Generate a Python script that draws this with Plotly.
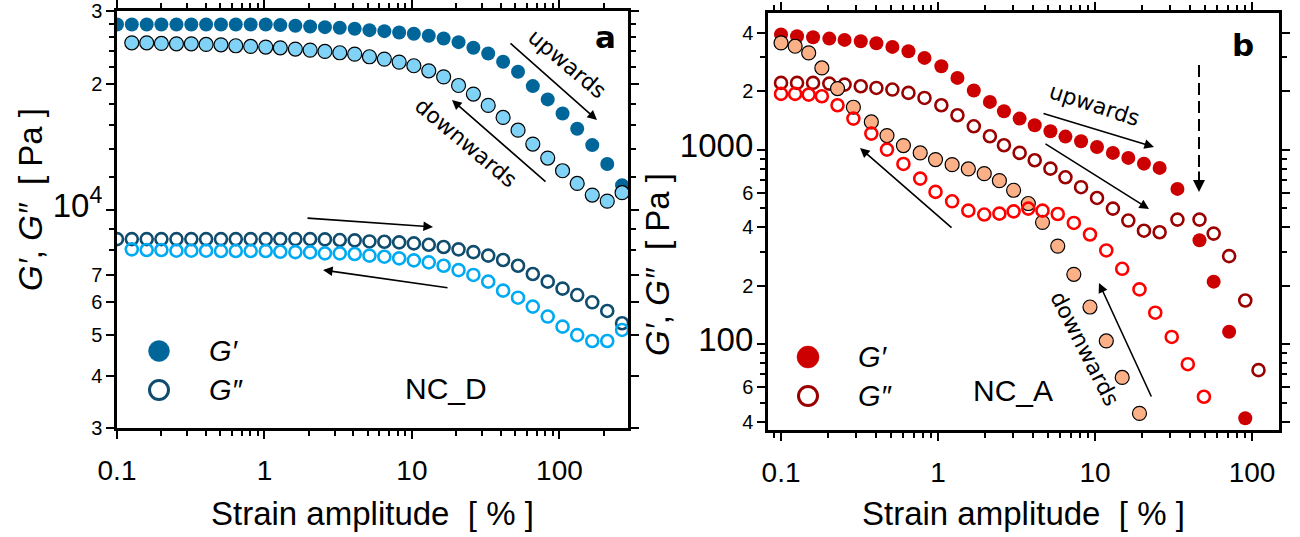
import plotly.graph_objects as go

# ---------------- data: panel a (NC_D) ----------------
STRAIN_A = [0.1, 0.126, 0.159, 0.2, 0.253, 0.319, 0.402, 0.507, 0.639, 0.806,
            1.02, 1.28, 1.62, 2.04, 2.57, 3.24, 4.09, 5.15, 6.5, 8.19,
            10.3, 13.0, 16.4, 20.7, 26.1, 32.9, 41.5, 52.4, 66.0, 83.3,
            105, 132, 167, 211, 266]
A_GP_UP = [27860, 27860, 27860, 27860, 27860, 27860, 27860, 27860, 27860, 27860,
           27860, 27760, 27660, 27550, 27450, 27350, 27200, 27000, 26850, 26650,
           26460, 26170, 25790, 25270, 24490, 23740, 22670, 21460, 19820, 18420,
           17040, 15660, 14310, 12890, 11470]
A_GPP_UP = [8515, 8515, 8515, 8515, 8515, 8515, 8515, 8515, 8515, 8515,
            8515, 8515, 8515, 8515, 8500, 8470, 8455, 8405, 8390, 8360,
            8315, 8250, 8150, 8045, 7925, 7770, 7585, 7350, 7020, 6730,
            6475, 6250, 6005, 5725, 5350]
STRAIN_A_DOWN = [0.126, 0.159, 0.2, 0.253, 0.319, 0.402, 0.507, 0.639, 0.806,
                 1.02, 1.28, 1.62, 2.04, 2.57, 3.24, 4.09, 5.15, 6.5, 8.19,
                 10.3, 13.0, 16.4, 20.7, 26.1, 32.9, 41.5, 52.4, 66.0, 83.3,
                 105, 132, 167, 211, 266]
A_GP_DOWN = [25180, 25180, 25090, 25040, 25040, 24950, 24900, 24770, 24680,
             24590, 24490, 24320, 24180, 24000, 23830, 23650, 23310, 23010, 22630,
             22180, 21570, 20860, 19890, 18970, 17820, 16670, 15540, 14390, 13320,
             12420, 11580, 10860, 10500, 11000]
A_GPP_DOWN = [8045, 8015, 8015, 7985, 7985, 7985, 7970, 7970, 7970,
              7970, 7940, 7925, 7910, 7870, 7870, 7840, 7770, 7725, 7655,
              7570, 7485, 7350, 7175, 6985, 6730, 6405, 6160, 5865, 5550,
              5250, 5010, 4850, 4850, 5155]

# ---------------- data: panel b (NC_A) ----------------
STRAIN_B_UP = [0.1, 0.1265, 0.160, 0.203, 0.254, 0.322, 0.405, 0.512, 0.648, 0.820,
               1.05, 1.33, 1.69, 2.14, 2.63, 3.31, 4.13, 5.20, 6.48, 8.15,
               10.3, 13.0, 16.3, 20.5, 25.8, 33.5, 46.3, 57.0, 71.5, 90.6]
B_GP_UP = [3922, 3845, 3800, 3739, 3681, 3623, 3538, 3388, 3218, 2975,
           2695, 2347, 2020, 1766, 1581, 1449, 1339, 1248, 1171, 1108,
           1036, 965, 910, 850, 808, 630, 343, 210, 116, 41.6]
STRAIN_B_UP2 = [0.1, 0.1265, 0.160, 0.203, 0.254, 0.322, 0.405, 0.512, 0.648, 0.820,
                1.05, 1.33, 1.69, 2.14, 2.63, 3.31, 4.13, 5.20, 6.48, 8.15,
                10.3, 13.0, 16.3, 20.5, 25.8, 33.5, 46.3, 57.0, 71.5, 90.6, 110]
B_GPP_UP = [2212, 2212, 2212, 2194, 2168, 2126, 2084, 2044, 1965, 1851,
            1697, 1508, 1323, 1176, 1057, 965, 885, 801, 723, 643,
            566, 499, 433, 384, 377, 438, 438, 371, 284, 168, 73.6]
STRAIN_B_DOWN = [0.1, 0.123, 0.150, 0.182, 0.229, 0.289, 0.376, 0.473, 0.602, 0.770,
                 0.964, 1.23, 1.56, 1.97, 2.46, 3.03, 3.76, 4.63, 5.79, 7.33,
                 9.29, 11.8, 14.9, 19.2, 24.2, 30.8, 39.0, 49.4]
B_GP_DOWN = [3553, 3415, 3156, 2642, 2068, 1658, 1393, 1185, 1053, 965,
             892, 840, 798, 755, 695, 620, 530, 424, 320, 229,
             155.5, 104, 67.5, 44.1]
B_GPP_DOWN = [1942, 1942, 1926, 1888, 1697, 1449, 1213, 1004, 847, 712,
              608, 544, 487, 465, 470, 483, 499, 487, 468, 421,
              367, 304, 244.5, 191.6, 145.4, 109.1, 79.0, 53.7]

# tick labels
X_TICKS = [0.1, 1, 10, 100]
X_TICKTEXT = ["0.1", "1", "10", "100"]
A_YTICKS = [3000, 4000, 5000, 6000, 7000, 10000, 20000, 30000]
A_YTICKTEXT = ["3", "4", "5", "6", "7",
               '<span style="font-size:33px">10<sup>4</sup></span>', "2", "3"]
B_YTICKS = [40, 60, 100, 200, 400, 600, 1000, 2000, 4000]
B_YTICKTEXT = ["4", "6", '<span style="font-size:33px">100</span>', "2", "4", "6",
               '<span style="font-size:33px">1000</span>', "2", "4"]

W, H = 1300, 537
FONT = "Liberation Sans, Arial, sans-serif"
DJ = "DejaVu Sans, sans-serif"


def px(x):
    return x / W


def py(y):
    return 1 - y / H


fig = go.Figure()

# panel a traces
fig.add_trace(go.Scatter(x=STRAIN_A, y=A_GP_UP, mode="markers", xaxis="x", yaxis="y",
                         marker=dict(size=14, color="#00669a", line=dict(width=0))))
fig.add_trace(go.Scatter(x=STRAIN_A_DOWN, y=A_GP_DOWN, mode="markers", xaxis="x", yaxis="y",
                         marker=dict(size=14, color="#80d2f7", line=dict(width=1.2, color="black"))))
fig.add_trace(go.Scatter(x=STRAIN_A, y=A_GPP_UP, mode="markers", xaxis="x", yaxis="y",
                         marker=dict(size=12, color="rgba(0,0,0,0)", line=dict(width=2.6, color="#0f4c6e"))))
fig.add_trace(go.Scatter(x=STRAIN_A_DOWN, y=A_GPP_DOWN, mode="markers", xaxis="x", yaxis="y",
                         marker=dict(size=12, color="rgba(0,0,0,0)", line=dict(width=2.6, color="#00aaf2"))))

# panel b traces
fig.add_trace(go.Scatter(x=STRAIN_B_UP, y=B_GP_UP, mode="markers", xaxis="x2", yaxis="y2",
                         marker=dict(size=14, color="#cc0000", line=dict(width=0))))
fig.add_trace(go.Scatter(x=STRAIN_B_UP2, y=B_GPP_UP, mode="markers", xaxis="x2", yaxis="y2",
                         marker=dict(size=12, color="rgba(0,0,0,0)", line=dict(width=2.6, color="#9a0000"))))
fig.add_trace(go.Scatter(x=STRAIN_B_DOWN[:len(B_GP_DOWN)], y=B_GP_DOWN, mode="markers", xaxis="x2", yaxis="y2",
                         marker=dict(size=14, color="#fbb087", line=dict(width=1.2, color="black"))))
fig.add_trace(go.Scatter(x=STRAIN_B_DOWN, y=B_GPP_DOWN, mode="markers", xaxis="x2", yaxis="y2",
                         marker=dict(size=12, color="rgba(0,0,0,0)", line=dict(width=2.6, color="#ff0000"))))

axis_common = dict(type="log", showline=True, linewidth=2.5, linecolor="black",
                   mirror="allticks", ticks="outside", ticklen=8, tickwidth=2,
                   tickcolor="black", showgrid=False, zeroline=False,
                   tickmode="array", automargin=False, ticklabeloverflow="allow")

minor_a_x = [0.2, 0.3, 0.4, 0.5, 0.6, 0.7, 0.8, 0.9, 2, 3, 4, 5, 6, 7, 8, 9,
             20, 30, 40, 50, 60, 70, 80, 90, 200]
minor_b_x = [0.09, 0.2, 0.3, 0.4, 0.5, 0.6, 0.7, 0.8, 0.9, 2, 3, 4, 5, 6, 7, 8, 9,
             20, 30, 40, 50, 60, 70, 80, 90]
minor_a_y = [8000, 9000, 12000, 14000, 16000, 18000, 22000, 24000, 26000, 28000]
minor_b_y = [50, 70, 80, 90, 300, 500, 700, 800, 900, 3000]

fig.update_layout(
    width=W, height=H, margin=dict(l=0, r=0, t=0, b=0, autoexpand=False),
    paper_bgcolor="white", plot_bgcolor="white", showlegend=False,
    xaxis=dict(axis_common, domain=[px(117), px(628)], range=[-1, 2.465], anchor="y",
               tickvals=X_TICKS, ticktext=X_TICKTEXT, ticklabelstandoff=8,
               tickfont=dict(family=FONT, size=28, color="black"),
               minor=dict(tickvals=minor_a_x, ticklen=5, tickwidth=1.5, ticks="outside", tickcolor="black")),
    yaxis=dict(axis_common, domain=[py(428), py(11)], range=[3.4770, 4.4773], anchor="x",
               tickvals=A_YTICKS, ticktext=A_YTICKTEXT,
               tickfont=dict(family=FONT, size=20, color="black"),
               minor=dict(tickvals=minor_a_y, ticklen=5, tickwidth=1.5, ticks="outside", tickcolor="black")),
    xaxis2=dict(axis_common, domain=[px(768), px(1279)], range=[-1.083, 2.172], anchor="y2",
                tickvals=X_TICKS, ticktext=X_TICKTEXT, ticklabelstandoff=8,
                tickfont=dict(family=FONT, size=28, color="black"),
                minor=dict(tickvals=minor_b_x, ticklen=5, tickwidth=1.5, ticks="outside", tickcolor="black")),
    yaxis2=dict(axis_common, domain=[py(430), py(12.5)], range=[1.559, 3.707], anchor="x2",
                tickvals=B_YTICKS, ticktext=B_YTICKTEXT,
                tickfont=dict(family=FONT, size=20, color="black"),
                minor=dict(tickvals=minor_b_y, ticklen=5, tickwidth=1.5, ticks="outside", tickcolor="black")),
)

ann = []


def text(x, y, s, size, family=FONT, angle=0, xanchor="center"):
    ann.append(dict(x=px(x), y=py(y), xref="paper", yref="paper", text=s, showarrow=False,
                    textangle=angle, xanchor=xanchor, yanchor="middle",
                    font=dict(family=family, size=size, color="black")))


def arrow(tx, ty, hx, hy, width=1.6):
    ann.append(dict(x=px(hx), y=py(hy), xref="paper", yref="paper", text="",
                    showarrow=True, ax=tx - hx, ay=ty - hy, axref="pixel", ayref="pixel",
                    arrowhead=2, arrowsize=1.2, arrowwidth=width, arrowcolor="black",
                    standoff=0, startstandoff=0))


NB = "\u00a0"
XT = f"Strain amplitude{NB}{NB}[{NB}%{NB}]"
YT = f"<i>G′</i>, <i>G″</i>{NB}{NB}[{NB}Pa{NB}]"
# axis titles
text(372, 513, XT, 33)
text(1023, 513, XT, 33)
text(30, 200, YT, 33, angle=-90)
text(657, 265, YT, 33, angle=-90)

# panel labels
text(605, 37, "<b>a</b>", 31, family=DJ)
text(1243, 45, "<b>b</b>", 31, family=DJ)

# panel a annotations
text(567, 63, "upwards", 22, family=DJ, angle=40)
text(466, 142, "downwards", 22, family=DJ, angle=40)
arrow(509, 42, 597, 120)
arrow(547, 183, 452, 100)
arrow(306, 218, 433, 227)
arrow(449, 288, 323, 270)
text(446, 388, "NC_D", 30)
text(207, 351, "<i>G′</i>", 29, xanchor="left")
text(207, 390, "<i>G″</i>", 29, xanchor="left")

# panel b annotations
text(1094, 104, "upwards", 22, family=DJ, angle=18)
text(1085, 348, "downwards", 22, family=DJ, angle=63)
arrow(1042, 113, 1154, 147)
arrow(1044, 143, 1149, 209)
arrow(953, 229, 860, 148)
arrow(1152, 398, 1099, 283)
arrow(1199, 170, 1199, 192, width=2)
text(1013, 390, "NC_A", 30)
text(856, 357, "<i>G′</i>", 29, xanchor="left")
text(856, 396, "<i>G″</i>", 29, xanchor="left")

fig.update_layout(annotations=ann)

shapes = []


def circle(cx, cy, d, fill, line_color, lw):
    r = d / 2
    shapes.append(dict(type="circle", xref="paper", yref="paper",
                       x0=px(cx - r), x1=px(cx + r), y0=py(cy + r), y1=py(cy - r),
                       fillcolor=fill, line=dict(color=line_color, width=lw)))


circle(159, 351, 21, "#00669a", "#00669a", 0.5)
circle(159, 390, 19, "rgba(0,0,0,0)", "#0f4c6e", 3)
circle(808, 357, 22, "#cc0000", "#cc0000", 0.5)
circle(808, 396, 19, "rgba(0,0,0,0)", "#9a0000", 3)
shapes.append(dict(type="line", xref="paper", yref="paper", x0=px(1199), x1=px(1199),
                   y0=py(65), y1=py(180), line=dict(color="black", width=2, dash="12px,6px")))
fig.update_layout(shapes=shapes)

fig.write_html("out.html", config={"displayModeBar": False},
               post_script="document.body.style.margin='0';")
